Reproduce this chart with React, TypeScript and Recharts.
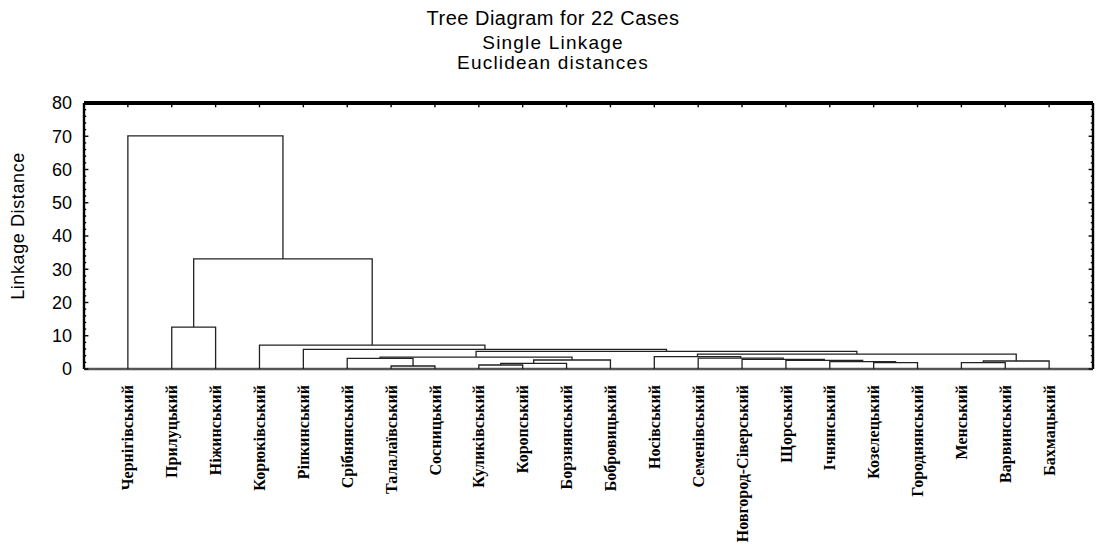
import React from "react";
import { LineChart, Line, XAxis, YAxis } from "recharts";

// leaves in the order they stand on the axis
const leafNames = [
  "Чернігівський",
  "Прилуцький",
  "Ніжинський",
  "Корюківський",
  "Ріпкинський",
  "Срібнянський",
  "Талалаївський",
  "Сосницький",
  "Куликівський",
  "Коропський",
  "Борзнянський",
  "Бобровицький",
  "Носівський",
  "Семенівський",
  "Новгород-Сіверський",
  "Щорський",
  "Ічнянський",
  "Козелецький",
  "Городнянський",
  "Менський",
  "Варвинський",
  "Бахмацький",
];

// merge table: ids 0..21 are leaves, 22 + k is the k-th merge
const mergeLeft = [6, 8, 23, 17, 19, 16, 26, 15, 24, 14, 5, 13, 32, 12, 35, 34, 4, 3, 1, 40, 0];
const mergeRight = [7, 9, 10, 18, 20, 25, 21, 27, 11, 29, 22, 31, 30, 33, 28, 36, 37, 38, 2, 39, 41];
const mergeHeight = [
  0.9, 1.2, 1.7, 1.9, 1.9, 2.2, 2.4, 2.6, 2.7, 2.9, 3.2, 3.3, 3.6, 3.7, 4.5, 5.3, 5.9, 7.2, 12.6,
  33.1, 70.1,
];

const yTicks = [0, 10, 20, 30, 40, 50, 60, 70, 80];
const yMinorTicks = [
  2, 4, 6, 8, 12, 14, 16, 18, 22, 24, 26, 28, 32, 34, 36, 38, 42, 44, 46, 48, 52, 54, 56, 58, 62,
  64, 66, 68, 72, 74, 76, 78,
];
const leafTicks = leafNames.map((_, i) => i + 1);

const X_MAX = 23;
const Y_MAX = 80;

// x of every node = middle of its two children
const N = leafNames.length;
const nodeX: number[] = leafNames.map((_, i) => i + 1);
const nodeH: number[] = leafNames.map(() => 0);
const branches = mergeLeft.map((l, k) => {
  const r = mergeRight[k];
  const h = mergeHeight[k];
  nodeX[N + k] = (nodeX[l] + nodeX[r]) / 2;
  nodeH[N + k] = h;
  return [
    { x: nodeX[l], y: nodeH[l] },
    { x: nodeX[l], y: h },
    { x: nodeX[r], y: h },
    { x: nodeX[r], y: nodeH[r] },
  ];
});

// inward ticks, in axis units (about 4px / 2px long)
const TICK_X_MAJ = 0.1;
const TICK_X_MIN = 0.05;
const TICK_Y = 1.3;

// frame edges sit on the clip border, so they are drawn twice as wide
const frameSides = [
  { d: [{ x: 0, y: 0 }, { x: 0, y: Y_MAX }], stroke: "#000", w: 2.4 },
  { d: [{ x: X_MAX, y: 0 }, { x: X_MAX, y: Y_MAX }], stroke: "#000", w: 2.4 },
  { d: [{ x: 0, y: Y_MAX }, { x: X_MAX, y: Y_MAX }], stroke: "#000", w: 4 },
  { d: [{ x: 0, y: 0 }, { x: X_MAX, y: 0 }], stroke: "#555", w: 2.6 },
];

const tickSegs = [
  ...yTicks.map((v) => [{ x: 0, y: v }, { x: TICK_X_MAJ, y: v }]),
  ...yMinorTicks.map((v) => [{ x: 0, y: v }, { x: TICK_X_MIN, y: v }]),
  ...yTicks.map((v) => [{ x: X_MAX - TICK_X_MAJ, y: v }, { x: X_MAX, y: v }]),
  ...yMinorTicks.map((v) => [{ x: X_MAX - TICK_X_MIN, y: v }, { x: X_MAX, y: v }]),
  ...leafTicks.map((v) => [{ x: v, y: Y_MAX }, { x: v, y: Y_MAX - TICK_Y }]),
];

const W = 1098;
const H = 547;

const sans = "'Liberation Sans', Arial, sans-serif";
const serif = "'Liberation Serif', 'Times New Roman', serif";

const LeafTick = (props: any) => {
  const { x, y, payload } = props;
  const name = leafNames[payload.value - 1];
  const ty = y + 14;
  return (
    <text
      x={x}
      y={ty}
      dy="0.35em"
      transform={`rotate(-90, ${x}, ${ty})`}
      textAnchor="end"
      fontFamily={serif}
      fontWeight="bold"
      fontSize={16}
      fill="#000"
    >
      {name}
    </text>
  );
};

const seriesLine = (d: any[], key: string, stroke: string, w: number) => (
  <Line
    key={key}
    xAxisId="b"
    yAxisId="l"
    data={d}
    dataKey="y"
    type="linear"
    stroke={stroke}
    strokeWidth={w}
    dot={false}
    activeDot={false}
    isAnimationActive={false}
  />
);

export default function App() {
  // fixed to the viewport so the page never scrolls
  return (
    <div style={{ position: "fixed", left: 0, top: 0, width: W, height: H, background: "#fff" }}>
      <LineChart width={W} height={H} margin={{ top: 103, right: 5, bottom: 0, left: 0 }}>
        <XAxis
          xAxisId="b"
          type="number"
          dataKey="x"
          domain={[0, X_MAX]}
          ticks={leafTicks}
          interval={0}
          height={178}
          tickLine={false}
          tickSize={0}
          axisLine={false}
          tick={<LeafTick />}
        />
        <YAxis
          yAxisId="l"
          type="number"
          domain={[0, Y_MAX]}
          ticks={yTicks}
          interval={0}
          width={84}
          tickSize={0}
          tickMargin={12}
          tickLine={false}
          axisLine={false}
          tick={{ fill: "#000", fontSize: 18, fontFamily: sans }}
        />
        {frameSides.map((f, i) => seriesLine(f.d, `f${i}`, f.stroke, f.w))}
        {tickSegs.map((d, i) => seriesLine(d, `t${i}`, "#000", 1.4))}
        {branches.map((d, k) => seriesLine(d, `b${k}`, "#222", 1.3))}
      </LineChart>
      <svg
        width={W}
        height={H}
        style={{ position: "absolute", left: 0, top: 0, pointerEvents: "none" }}
      >
        <g fontFamily={sans} fill="#000" textAnchor="middle">
          <text x={553} y={25} fontSize={20} letterSpacing={0.5}>
            Tree Diagram for 22 Cases
          </text>
          <text x={553} y={48.5} fontSize={19} letterSpacing={1.2}>
            Single Linkage
          </text>
          <text x={553} y={69} fontSize={19} letterSpacing={1.2}>
            Euclidean distances
          </text>
        </g>
        <text
          x={24}
          y={226}
          fontFamily={sans}
          fontSize={18}
          letterSpacing={0.6}
          textAnchor="middle"
          fill="#000"
          transform="rotate(-90, 24, 226)"
        >
          Linkage Distance
        </text>
      </svg>
    </div>
  );
}
